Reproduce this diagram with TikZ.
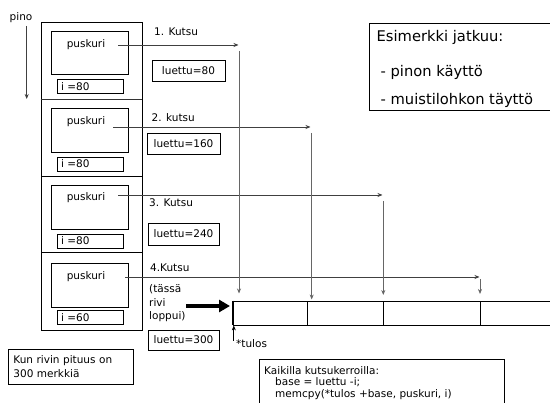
\documentclass[tikz,border=0pt]{standalone}
\usepackage{fontspec}
\setmainfont{DejaVu Sans}
\usetikzlibrary{arrows.meta}
\begin{document}
\begin{tikzpicture}[x=1pt,y=-1pt,
  font=\fontsize{10.5}{11}\selectfont,
  box/.style={draw, line width=0.8pt, inner sep=0pt, rectangle},
  frame/.style={box, minimum width=101pt},
  pbox/.style={box, minimum width=77pt},
  ibox/.style={box, text width=58pt, inner xsep=4pt, inner ysep=0pt, minimum height=14pt, align=left},
  lbox/.style={box, minimum height=21pt},
  cell/.style={box, minimum height=24pt},
  lbl/.style={inner sep=0pt, anchor=west},
  conn/.style={draw=black!75, line width=0.7pt, -{Stealth[length=5pt,width=4pt]}},
  vline/.style={draw=black!60, line width=0.7pt, -{Stealth[length=5pt,width=4pt]}},
  fat/.style={draw=black, line width=4.5pt, -{Triangle[length=11pt,width=12pt]}}
]
\useasboundingbox (0,0) rectangle (550,403);
\clip (0,0) rectangle (550,403);

% stack
\node (pino) [inner sep=0pt] at (21,18) {pino};
\coordinate (p1) at (26.7,26);
\coordinate (p2) at (26.7,99);
\draw[draw=black!75, line width=0.7pt, -{Stealth[length=5pt,width=4pt]}] (p1) -- (p2);

\node[frame, minimum height=77pt] (f1) at (91.5,60.5) {};
\node[frame, minimum height=77pt] (f2) at (91.5,137.5) {};
\node[frame, minimum height=76pt] (f3) at (91.5,214) {};
\node[frame, minimum height=78pt] (f4) at (91.5,291) {};
\draw[line width=1.6pt, black!80] (f1.south west) -- (f1.south east);

\node[pbox, minimum height=43pt] (pb1) at (89.5,52.5) {};
\node[pbox, minimum height=44pt] (pb2) at (89.5,130) {};
\node[pbox, minimum height=44pt] (pb3) at (89.5,207) {};
\node[pbox, minimum height=44pt] (pb4) at (89.5,285) {};

\node[inner sep=0pt] (pt1) at (86,45) {puskuri};
\node[inner sep=0pt] (pt2) at (86,122) {puskuri};
\node[inner sep=0pt] (pt3) at (86,198) {puskuri};
\node[inner sep=0pt] (pt4) at (86,277) {puskuri};

\node[ibox] (ib1) at (90,86.5) {i =80};
\node[ibox] (ib2) at (90,164) {i =80};
\node[ibox] (ib3) at (90,241) {i =80};
\node[ibox] (ib4) at (90,317.5) {i =60};

% call labels
\node[lbl] (k1) at (154,32) {1. Kutsu};
\node[lbl] (k2) at (151.5,118) {2. kutsu};
\node[lbl] (k3) at (149,203) {3. Kutsu};
\node[lbl] (k4) at (150,268) {4.Kutsu};
\node[lbl] (k4b) at (149,289) {(tässä};
\node[lbl] (k4c) at (149,303) {rivi};
\node[lbl] (k4d) at (149,317) {loppui)};

\node[lbox, minimum width=73pt] (l1) at (188.5,70.5) {luettu=80};
\node[lbox, minimum width=73pt] (l2) at (183.5,143.5) {luettu=160};
\node[lbox, minimum width=71pt, minimum height=22pt] (l3) at (183.5,234) {luettu=240};
\node[lbox, minimum width=71pt, minimum height=20pt] (l4) at (183.5,340) {luettu=300};

% array
\node[cell, minimum width=74pt] (c1) at (270,313) {};
\node[cell, minimum width=76pt] (c2) at (345,313) {};
\node[cell, minimum width=97pt] (c3) at (431.5,313) {};
\node[cell, minimum width=80pt] (c4) at (520,313) {};
\draw[line width=1.8pt] (c1.north west) -- (c1.south west);

% call arrows
\coordinate (s1) at (118,45);   \coordinate (e1) at (238.5,45);
\coordinate (s2) at (113,127);  \coordinate (e2) at (310.5,127);
\coordinate (s3) at (118,195);  \coordinate (e3) at (382.5,195);
\coordinate (s4) at (125,277);  \coordinate (e4) at (479.5,277);
\draw[conn] (s1) -- (e1);
\draw[conn] (s2) -- (e2);
\draw[conn] (s3) -- (e3);
\draw[conn] (s4) -- (e4);

\coordinate (v1) at (239,51);    \coordinate (t1) at (239,293.5);
\coordinate (v2) at (311.7,133); \coordinate (t2) at (311.7,299.5);
\coordinate (v3) at (383.3,201); \coordinate (t3) at (383.3,295);
\coordinate (v4) at (480,279);   \coordinate (t4) at (480,294);
\draw[vline] (v1) -- (t1);
\draw[vline] (v2) -- (t2);
\draw[vline] (v3) -- (t3);
\draw[vline] (v4) -- (t4);

% thick arrow
\coordinate (ta1) at (186,306);
\coordinate (ta2) at (230,306);
\draw[fat] (ta1) -- (ta2);

% tulos
\coordinate (tu) at (233.8,341);
\draw[conn, draw=black] (tu) -- (tu |- c1.south);
\node[lbl] (tulos) at (236,343.5) {*tulos};

% note boxes
\node[box, anchor=north west, text width=115pt, inner xsep=5pt, inner ysep=4pt, align=left, minimum height=35pt, font=\fontsize{10.5}{14}\selectfont] (kun) at (8,349) {Kun rivin pituus on\\300 merkkiä};

\node[box, anchor=north west, minimum width=245pt, minimum height=60pt] (kai) at (259.3,359) {};
\node[inner sep=0pt, anchor=north west, align=left, font=\fontsize{10.5}{11.5}\selectfont] (kait) at (264,366) {Kaikilla kutsukerroilla:\\\hspace*{11pt}base = luettu -i;\\\hspace*{11pt}memcpy(*tulos +base, puskuri, i)};

\node[box, anchor=north west, minimum width=200pt, minimum height=87pt] (esi) at (369.3,23) {};
\node[lbl, font=\fontsize{14.7}{16}\selectfont] (es1) at (376.5,37) {Esimerkki jatkuu:};
\node[lbl, font=\fontsize{14.7}{16}\selectfont] (es2) at (378,72) {\,- pinon käyttö};
\node[lbl, font=\fontsize{14.7}{16}\selectfont] (es3) at (378,100) {\,- muistilohkon täyttö};
\end{tikzpicture}
\end{document}
